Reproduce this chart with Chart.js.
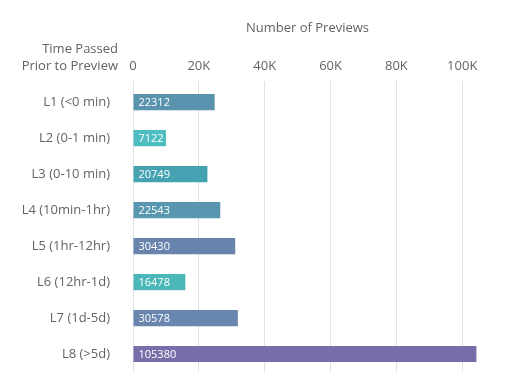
<!DOCTYPE html>
<html>
<head>
<meta charset="utf-8">
<script src="https://cdn.jsdelivr.net/npm/chart.js@4/dist/chart.umd.min.js"></script>
<style>
  body { margin: 0; background: #fff; }
  #wrap { width: 512px; height: 390px; }
</style>
</head>
<body>
<div id="wrap"><canvas id="mycanvas" width="512" height="390"></canvas></div>
<script>
// data
var categories = ['L1 (<0 min)', 'L2 (0-1 min)', 'L3 (0-10 min)', 'L4 (10min-1hr)',
                  'L5 (1hr-12hr)', 'L6 (12hr-1d)', 'L7 (1d-5d)', 'L8 (>5d)'];
// numbers printed on the bars
var previewCounts = [22312, 7122, 20749, 22543, 30430, 16478, 30578, 105380];
// bar lengths as measured against the grid (they don't follow the printed numbers exactly)
var barLengths = [24800, 10000, 22600, 26500, 31050, 15900, 31850, 104300];
var barColors = ['#5a93ae', '#4dbdbf', '#45a2b1', '#5997b1', '#6884ac', '#4cb7b8', '#6886ae', '#776faa'];
var tickValues = [0, 20000, 40000, 60000, 80000, 100000];

var textColor = '#606467';
var fontFamily = "'Open Sans', sans-serif";

// value written at the start of each bar
var barLabels = {
  id: 'barLabels',
  afterDatasetsDraw: function(chart) {
    var ctx = chart.ctx;
    var meta = chart.getDatasetMeta(0);
    ctx.save();
    ctx.fillStyle = '#fff';
    ctx.font = '11px ' + fontFamily;
    ctx.textAlign = 'left';
    ctx.textBaseline = 'middle';
    meta.data.forEach(function(bar, i) {
      ctx.fillText(String(previewCounts[i]), bar.base + 5, bar.y + 1);
    });
    ctx.restore();
  }
};

// the category axis title sits top-left, unrotated
var yTitle = {
  id: 'yTitle',
  afterDraw: function(chart) {
    var ctx = chart.ctx;
    ctx.save();
    ctx.fillStyle = textColor;
    ctx.font = '13px ' + fontFamily;
    ctx.textAlign = 'right';
    ctx.textBaseline = 'middle';
    ctx.fillText('Time Passed', 118, 49);
    ctx.fillText('Prior to Preview', 118, 66);
    ctx.restore();
  }
};

var ctx = document.getElementById('mycanvas');
var barGraph = new Chart(ctx, {
  type: 'bar',
  data: {
    labels: categories,
    datasets: [{
      label: 'Number of Previews',
      data: barLengths,
      backgroundColor: barColors,
      borderWidth: 0,
      categoryPercentage: 0.9,
      barPercentage: 0.5
    }]
  },
  options: {
    indexAxis: 'y',
    responsive: false,
    animation: false,
    layout: { padding: { left: 0, right: 30, top: 0, bottom: 18 } },
    plugins: {
      legend: { display: false },
      tooltip: { enabled: false }
    },
    scales: {
      x: {
        position: 'top',
        min: 0,
        max: 106000,
        afterBuildTicks: function(scale) {
          scale.ticks = tickValues.map(function(v) { return { value: v }; });
        },
        ticks: {
          color: textColor,
          font: { family: fontFamily, size: 13 },
          padding: 7,
          maxRotation: 0,
          autoSkip: false,
          callback: function(v) { return v === 0 ? '0' : (v / 1000) + 'K'; }
        },
        grid: { color: '#e2e2e2', lineWidth: 1, tickLength: 3 },
        border: { display: false },
        title: {
          display: true,
          text: 'Number of Previews',
          color: textColor,
          font: { family: fontFamily, size: 13 },
          padding: { top: 20, bottom: 16 }
        }
      },
      y: {
        afterFit: function(scale) {
          scale.width = 133;
          // tick padding is only meant as horizontal gap
          scale.paddingBottom = 0;
        },
        ticks: {
          color: textColor,
          font: { family: fontFamily, size: 13 },
          padding: 15
        },
        grid: { display: false },
        border: { display: false }
      }
    }
  },
  plugins: [barLabels, yTitle]
});
</script>
</body>
</html>
